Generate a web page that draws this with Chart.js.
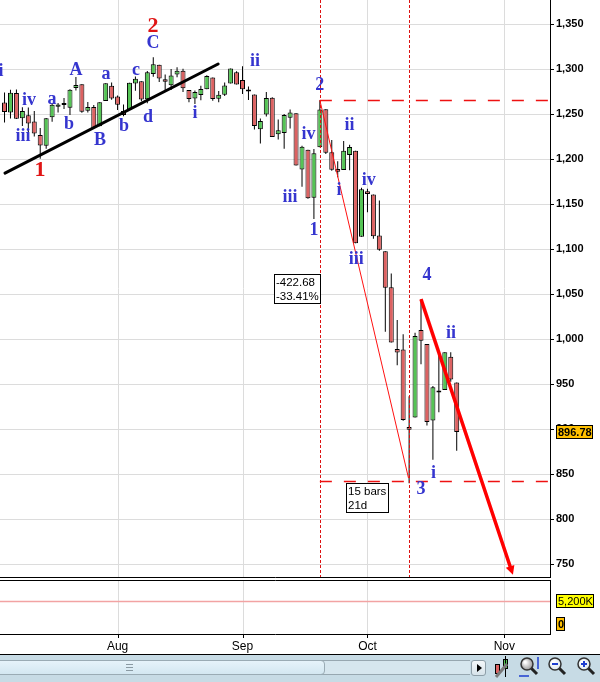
<!DOCTYPE html>
<html>
<head>
<meta charset="utf-8">
<title>S&amp;P 500 – Elliott wave count, Jul–Oct 2008</title>
<script src="https://cdn.jsdelivr.net/npm/chart.js@4.4.1/dist/chart.umd.min.js"></script>
<style>
  html,body{margin:0;padding:0;background:#fff;}
  #wrap{position:relative;width:600px;height:682px;overflow:hidden;background:#fff;}
  #price{position:absolute;left:0;top:0;}
  #volume{position:absolute;left:0;top:578px;}
  #bar{position:absolute;left:0;top:654px;width:600px;height:28px;background:#c7dbe5;border-top:1px solid #000;box-sizing:border-box;}
  #track{position:absolute;left:0;top:5px;width:470px;height:15px;box-sizing:border-box;background:#d6e6ee;border-top:1px solid #97a7b0;border-bottom:1px solid #97a7b0;}
  #thumb{position:absolute;left:-5px;top:5px;width:330px;height:15px;box-sizing:border-box;background:linear-gradient(#e6f3fa,#d3e7f1);border:1px solid #9aabb4;border-radius:4px;}
  #grip{position:absolute;left:130px;top:3px;width:7px;height:7px;background:repeating-linear-gradient(#8a9aa3 0 1px,transparent 1px 3px);}
  #btn{position:absolute;left:471px;top:5px;width:15px;height:16px;box-sizing:border-box;border:1px solid #8d9ea8;border-radius:3px;background:linear-gradient(#f4f8fa,#d6e3ea);}
  #btn:after{content:"";position:absolute;left:5px;top:3px;border-left:5px solid #000;border-top:4px solid transparent;border-bottom:4px solid transparent;}
  #icons{position:absolute;left:488px;top:0;}
</style>
</head>
<body>
<div id="wrap">
  <canvas id="price" width="600" height="578"></canvas>
  <canvas id="volume" width="600" height="77"></canvas>
  <div id="bar">
    <div id="track"></div>
    <div id="thumb"><div id="grip"></div></div>
    <div id="btn"></div>
    <canvas id="icons" width="112" height="27"></canvas>
  </div>
</div>
<script>
// ---------------- DATA ----------------
// trading days (x categories), Jul 7 2008 .. Nov 13 2008
const dates = [
  "2008-07-07","2008-07-08","2008-07-09","2008-07-10","2008-07-11","2008-07-14","2008-07-15","2008-07-16","2008-07-17","2008-07-18",
  "2008-07-21","2008-07-22","2008-07-23","2008-07-24","2008-07-25","2008-07-28","2008-07-29","2008-07-30","2008-07-31",
  "2008-08-01","2008-08-04","2008-08-05","2008-08-06","2008-08-07","2008-08-08","2008-08-11","2008-08-12","2008-08-13","2008-08-14","2008-08-15",
  "2008-08-18","2008-08-19","2008-08-20","2008-08-21","2008-08-22","2008-08-25","2008-08-26","2008-08-27","2008-08-28","2008-08-29",
  "2008-09-02","2008-09-03","2008-09-04","2008-09-05","2008-09-08","2008-09-09","2008-09-10","2008-09-11","2008-09-12",
  "2008-09-15","2008-09-16","2008-09-17","2008-09-18","2008-09-19","2008-09-22","2008-09-23","2008-09-24","2008-09-25","2008-09-26","2008-09-29","2008-09-30",
  "2008-10-01","2008-10-02","2008-10-03","2008-10-06","2008-10-07","2008-10-08","2008-10-09","2008-10-10","2008-10-13","2008-10-14","2008-10-15",
  "2008-10-16","2008-10-17","2008-10-20","2008-10-21","2008-10-22","2008-10-23","2008-10-24","2008-10-27","2008-10-28","2008-10-29","2008-10-30","2008-10-31",
  "2008-11-03","2008-11-04","2008-11-05","2008-11-06","2008-11-07","2008-11-10","2008-11-11","2008-11-12","2008-11-13"
];
const opens = [
  1262.90,1251.84,1273.38,1245.25,1248.66,1241.61,1226.83,1214.65,1246.31,1258.22,1261.82,1257.08,1278.87,1283.22,1253.51,1257.76,1236.38,1264.52,1281.37,
  1269.42,1253.27,1254.87,1283.99,1286.51,1266.29,1294.42,1304.79,1288.64,1282.11,1293.85,1298.14,1276.65,1267.34,1271.07,1277.59,1290.47,1267.03,1271.29,1283.79,1296.49,
  1287.83,1276.61,1271.80,1233.21,1249.50,1267.98,1227.50,1229.04,1245.88,1250.92,1188.31,1210.34,1157.08,1213.11,1255.37,1207.61,1188.79,1187.87,1204.47,1209.07,1113.78,
  1164.17,1160.64,1115.16,1097.56,1057.60,988.91,988.42,902.31,912.75,1009.97,994.60,909.53,942.29,943.51,980.40,951.67
];
const highs = [
  1273.95,1277.00,1277.36,1257.65,1257.27,1253.50,1234.35,1245.52,1262.31,1262.23,1267.74,1277.42,1291.17,1283.22,1263.23,1260.09,1263.20,1284.33,1284.93,
  1270.52,1260.49,1284.88,1291.67,1286.51,1297.85,1313.15,1304.79,1294.03,1300.11,1302.05,1300.22,1276.65,1276.01,1281.40,1293.09,1290.47,1275.65,1285.05,1300.68,1297.59,
  1303.04,1280.60,1271.80,1244.94,1274.42,1268.66,1243.90,1249.98,1255.09,1250.92,1214.84,1210.34,1211.14,1265.33,1255.37,1221.15,1197.41,1220.03,1215.77,1209.07,1168.03,
  1167.03,1160.64,1153.82,1097.56,1072.91,1021.06,1005.25,936.36,1006.93,1044.31,994.60,947.71,984.64,985.40,985.44,951.67
];
const lows = [
  1240.68,1245.00,1244.57,1236.76,1225.35,1225.01,1200.44,1211.39,1241.49,1251.81,1255.70,1248.83,1276.06,1251.48,1251.75,1234.37,1236.38,1264.52,1265.97,
  1254.54,1247.45,1254.67,1276.00,1264.29,1262.11,1291.41,1285.64,1274.86,1276.84,1290.74,1274.51,1263.11,1261.16,1265.22,1277.59,1264.87,1263.21,1270.03,1283.79,1282.74,
  1272.20,1265.59,1232.83,1217.23,1247.12,1224.51,1221.60,1211.54,1233.81,1192.70,1169.28,1155.88,1133.50,1213.11,1205.61,1187.06,1179.79,1187.87,1187.54,1106.39,1113.78,
  1140.77,1111.43,1098.14,1007.97,996.23,970.97,909.19,839.80,912.75,972.07,903.99,865.83,918.74,943.51,952.47,875.81
];
const closes = [
  1252.31,1273.70,1244.69,1253.39,1239.49,1228.30,1214.91,1245.36,1260.32,1260.68,1260.00,1277.00,1282.19,1252.54,1257.76,1234.37,1263.20,1284.26,1267.38,
  1260.31,1249.01,1284.88,1289.19,1266.07,1296.32,1305.32,1289.59,1285.83,1292.93,1298.20,1278.60,1266.69,1274.54,1277.72,1292.20,1266.84,1271.51,1281.66,1300.68,1282.83,
  1277.58,1274.98,1236.83,1242.31,1267.79,1224.51,1232.04,1249.05,1251.70,1192.70,1213.60,1156.39,1206.51,1255.08,1207.09,1188.22,1185.87,1209.18,1213.27,1106.39,1166.36,
  1161.06,1114.28,1099.23,1056.89,996.23,984.94,909.92,899.22,1003.35,998.01,907.84,946.43,940.55,985.40,955.05,896.78
];
const priceTicks = [750,800,850,900,950,1000,1050,1100,1150,1200,1250,1300,1350];
const monthNames = {"07":"Jul","08":"Aug","09":"Sep","10":"Oct","11":"Nov"};
const volumeRef = 5200;           // thousands, reference level in the volume pane
const volumes = [];               // no volume bars shown

// Elliott-wave annotations (x = trading-day index, y = price)
const waveLabels = [
  ["i",-0.6,1297,"minor"],["iii",3.1,1225.5,"minor"],["iv",4.1,1265.5,"minor"],["1",5.97,1187,"major"],
  ["a",8.0,1266.5,"minor"],["b",10.85,1238,"minor"],["A",12.0,1299,"minor"],["B",16.05,1221,"minor"],
  ["a",17.05,1294.5,"minor"],["b",20.1,1236.5,"minor"],["c",22.1,1299,"minor"],["d",24.1,1246.5,"minor"],
  ["C",24.95,1328,"minor"],["2",24.95,1347,"major"],["i",32.0,1251,"minor"],["ii",42.1,1308,"minor"],
  ["iii",48.0,1157.5,"minor"],["iv",51.1,1227,"minor"],["1",52.0,1120.5,"minor"],["2",53.0,1282,"minor"],
  ["i",56.2,1165.5,"minor"],["ii",58.0,1237,"minor"],["iii",59.1,1088,"minor"],["iv",61.2,1176.5,"minor"],
  ["3",70.0,833,"minor"],["4",71.0,1071,"minor"],["i",72.1,851,"minor"],["ii",75.05,1006.5,"minor"]
];
const trendLine  = [[0.08,1184.4],[35.9,1305.6]];
const waveLine   = [[53,1265.33],[67.9,845.5]];
const projArrow  = [[70,1044.31],[85.45,738]];
const levelLines = [[53,1265.33],[53,842.2]];
const markerDays = [53,68];
const measureBoxes = [
  {lines:["-422.68","-33.41%"], x:45.3, y:1072.2},
  {lines:["15 bars","21d"],     x:57.4, y:840}
];

// ---------------- CHART ----------------
Chart.defaults.font.family = "'Liberation Sans', Arial, sans-serif";
const X_MIN = -0.76, X_MAX = 91.68;
const Y_MIN = 735.6, Y_MAX = 1376.7;
const V_MIN = -2261, V_MAX = 9948;
const GRID = "#dcdcdc";

const monthTicks = dates.map((d,i)=>i).filter(i=>i>0 && dates[i].slice(5,7)!==dates[i-1].slice(5,7));
const UP = "#55c455", DOWN = "#dc6262";

const bodies = opens.map((o,i)=>({x:i, y:[o, closes[i]]}));
const wicks  = opens.map((o,i)=>({x:i, y:[lows[i], highs[i]]}));
const bodyColors = opens.map((o,i)=> closes[i] >= o ? UP : DOWN);

function tag(ctx, x, y, text, fill, bold){
  ctx.font = (bold ? "bold " : "") + "11px 'Liberation Sans', Arial, sans-serif";
  const w = Math.round(ctx.measureText(text).width) + 3;
  const top = Math.round(y - 7);
  ctx.fillStyle = fill; ctx.fillRect(x, top, w, 14);
  ctx.strokeStyle = "#000"; ctx.lineWidth = 1; ctx.setLineDash([]);
  ctx.strokeRect(x + 0.5, top + 0.5, w - 1, 13);
  ctx.fillStyle = "#000"; ctx.textAlign = "left"; ctx.textBaseline = "middle";
  ctx.fillText(text, x + 2, top + 7.5);
}

// month grid lines (and optional tick marks) drawn from the x scale
function monthGrid(chart, tickLen){
  const {ctx, chartArea:a, scales:{x}} = chart;
  ctx.save();
  ctx.lineWidth = 1;
  monthTicks.forEach(v => {
    const p = Math.round(x.getPixelForValue(v)) + 0.5;
    ctx.strokeStyle = GRID; ctx.beginPath(); ctx.moveTo(p, a.top); ctx.lineTo(p, a.bottom); ctx.stroke();
    if (tickLen) { ctx.strokeStyle = "#000"; ctx.beginPath(); ctx.moveTo(p, a.bottom); ctx.lineTo(p, a.bottom + tickLen); ctx.stroke(); }
  });
  ctx.restore();
}

const overlay = {
  id: "overlay",
  beforeDatasetsDraw(chart){ monthGrid(chart, 0); },
  afterDatasetsDraw(chart){
    const {ctx, chartArea:a, scales:{x, y}} = chart;
    const X = v => x.getPixelForValue(v), Y = v => y.getPixelForValue(v);
    ctx.save();
    ctx.beginPath(); ctx.rect(a.left, a.top, a.right - a.left, a.bottom - a.top); ctx.clip();
    // vertical dotted markers
    ctx.strokeStyle = "#dd1111"; ctx.lineWidth = 1; ctx.setLineDash([3,2]);
    markerDays.forEach(d => { const p = Math.round(X(d)) + 0.5; ctx.beginPath(); ctx.moveTo(p, a.top); ctx.lineTo(p, a.bottom); ctx.stroke(); });
    // horizontal dashed levels
    ctx.strokeStyle = "#ee1111"; ctx.lineWidth = 1.5; ctx.setLineDash([12,12]);
    levelLines.forEach(([d,p]) => { const yy = Math.round(Y(p)) + 0.5; ctx.beginPath(); ctx.moveTo(X(d), yy); ctx.lineTo(a.right, yy); ctx.stroke(); });
    ctx.setLineDash([]);
    // thin wave line
    ctx.strokeStyle = "#ff1111"; ctx.lineWidth = 1;
    ctx.beginPath(); ctx.moveTo(X(waveLine[0][0]), Y(waveLine[0][1])); ctx.lineTo(X(waveLine[1][0]), Y(waveLine[1][1])); ctx.stroke();
    // trend line
    ctx.strokeStyle = "#000"; ctx.lineWidth = 3; ctx.lineCap = "round";
    ctx.beginPath(); ctx.moveTo(X(trendLine[0][0]), Y(trendLine[0][1])); ctx.lineTo(X(trendLine[1][0]), Y(trendLine[1][1])); ctx.stroke();
    // projection arrow
    const x0 = X(projArrow[0][0]), y0 = Y(projArrow[0][1]), x1 = X(projArrow[1][0]), y1 = Y(projArrow[1][1]);
    const ang = Math.atan2(y1 - y0, x1 - x0), hl = 9, hw = 4.5;
    ctx.strokeStyle = "#ff0000"; ctx.fillStyle = "#ff0000"; ctx.lineWidth = 3.5; ctx.lineCap = "butt";
    ctx.beginPath(); ctx.moveTo(x0, y0); ctx.lineTo(x1 - Math.cos(ang)*hl*0.8, y1 - Math.sin(ang)*hl*0.8); ctx.stroke();
    ctx.beginPath(); ctx.moveTo(x1, y1);
    ctx.lineTo(x1 - Math.cos(ang)*hl - Math.sin(ang)*hw, y1 - Math.sin(ang)*hl + Math.cos(ang)*hw);
    ctx.lineTo(x1 - Math.cos(ang)*hl + Math.sin(ang)*hw, y1 - Math.sin(ang)*hl - Math.cos(ang)*hw);
    ctx.closePath(); ctx.fill();
    // wave labels
    ctx.textAlign = "center"; ctx.textBaseline = "middle";
    waveLabels.forEach(([t, d, p, kind]) => {
      if (kind === "major") { ctx.font = "bold 22px 'Liberation Serif', 'Times New Roman', serif"; ctx.fillStyle = "#e01515"; }
      else { ctx.font = "bold 18px 'Liberation Serif', 'Times New Roman', serif"; ctx.fillStyle = "#3535cf"; }
      ctx.fillText(t, X(d), Y(p));
    });
    // measurement boxes
    ctx.font = "11.5px 'Liberation Sans', Arial, sans-serif";
    measureBoxes.forEach(b => {
      const w = Math.ceil(Math.max(...b.lines.map(l => ctx.measureText(l).width))) + 4;
      const h = b.lines.length * 14 + 2;
      const bx = Math.round(X(b.x)), by = Math.round(Y(b.y));
      ctx.fillStyle = "#fff"; ctx.fillRect(bx, by, w, h);
      ctx.strokeStyle = "#000"; ctx.lineWidth = 1; ctx.strokeRect(bx + 0.5, by + 0.5, w - 1, h - 1);
      ctx.fillStyle = "#000"; ctx.textAlign = "left"; ctx.textBaseline = "middle";
      b.lines.forEach((l, k) => ctx.fillText(l, bx + 2, by + 8.5 + k * 14));
    });
    ctx.restore();
  },
  afterDraw(chart){
    const {ctx, chartArea:a, scales:{y}} = chart;
    ctx.save();
    const last = closes[closes.length - 1];
    tag(ctx, a.right + 6, y.getPixelForValue(last), last.toFixed(2), "#ffc000", true);
    ctx.restore();
  }
};

new Chart(document.getElementById("price"), {
  type: "bar",
  data: {
    datasets: [
      {label:"Open/Close", data: bodies, backgroundColor: bodyColors, borderColor:"#000", borderWidth:1,
       borderSkipped:false, barThickness:5, minBarLength:2, grouped:false, order:0, inflateAmount:0},
      {label:"High/Low", data: wicks, backgroundColor:"#000", borderWidth:0,
       barThickness:1, grouped:false, order:1, inflateAmount:0}
    ]
  },
  options: {
    responsive:false, animation:false, events:[],
    layout:{padding:0},
    plugins:{legend:{display:false}, tooltip:{enabled:false}},
    scales:{
      x:{type:"linear", min:X_MIN, max:X_MAX, offset:false,
         afterBuildTicks:s=>{ s.ticks = monthTicks.map(v=>({value:v})); },
         afterFit:s=>{ s.height = 1; s.paddingLeft = 0; s.paddingRight = 0; },
         grid:{display:false},
         border:{display:true, color:"#000", width:1},
         ticks:{display:false}},
      y:{type:"linear", position:"right", min:Y_MIN, max:Y_MAX,
         afterBuildTicks:s=>{ s.ticks = priceTicks.map(v=>({value:v})); },
         afterFit:s=>{ s.width = 50; s.paddingTop = 0; s.paddingBottom = 0; },
         grid:{color:GRID, lineWidth:1, tickColor:"#000", tickLength:4},
         border:{display:true, color:"#000", width:1},
         ticks:{color:"#000", padding:2, font:{size:11, weight:"bold"},
                callback:v=>v.toLocaleString("en-US")}}
    }
  },
  plugins:[overlay]
});

const volOverlay = {
  id:"volOverlay",
  beforeDatasetsDraw(chart){
    monthGrid(chart, 4);
    const {ctx, chartArea:a, scales:{y}} = chart;
    ctx.save();
    const yr = Math.round(y.getPixelForValue(volumeRef)) + 0.5;
    ctx.strokeStyle = "#f2a3a3"; ctx.lineWidth = 1.5;
    ctx.beginPath(); ctx.moveTo(a.left, yr); ctx.lineTo(a.right, yr); ctx.stroke();
    ctx.restore();
  },
  afterDraw(chart){
    const {ctx, chartArea:a, scales:{y}} = chart;
    ctx.save();
    ctx.strokeStyle = "#000"; ctx.lineWidth = 1;
    ctx.beginPath(); ctx.moveTo(0, Math.round(a.top) + 0.5); ctx.lineTo(a.right + 1, Math.round(a.top) + 0.5); ctx.stroke();
    tag(ctx, a.right + 6, y.getPixelForValue(volumeRef), (volumeRef).toLocaleString("en-US") + "K", "#ffff00", false);
    tag(ctx, a.right + 6, y.getPixelForValue(0), "0", "#ffc000", true);
    ctx.restore();
  }
};

new Chart(document.getElementById("volume"), {
  type:"bar",
  data:{datasets:[{label:"Volume", data: volumes, backgroundColor:"#4a8", grouped:false}]},
  options:{
    responsive:false, animation:false, events:[],
    layout:{padding:{top:2, left:0, right:0, bottom:0}},
    plugins:{legend:{display:false}, tooltip:{enabled:false}},
    scales:{
      x:{type:"linear", min:X_MIN, max:X_MAX, offset:false,
         afterBuildTicks:s=>{ s.ticks = monthTicks.map(v=>({value:v})); },
         afterFit:s=>{ s.height = 21; s.paddingLeft = 0; s.paddingRight = 0; },
         grid:{display:true, drawOnChartArea:false, drawTicks:true, tickLength:4, color:"rgba(0,0,0,0)", tickColor:"rgba(0,0,0,0)"},
         border:{display:true, color:"#000", width:1},
         ticks:{color:"#000", padding:1, maxRotation:0, autoSkip:false, font:{size:12},
                callback:v=>monthNames[dates[v].slice(5,7)]}},
      y:{type:"linear", position:"right", min:V_MIN, max:V_MAX,
         afterBuildTicks:s=>{ s.ticks = [{value:0},{value:volumeRef}]; },
         afterFit:s=>{ s.width = 50; s.paddingTop = 0; s.paddingBottom = 0; },
         grid:{display:false},
         border:{display:true, color:"#000", width:1},
         ticks:{display:false}}
    }
  },
  plugins:[volOverlay]
});

// ---------------- toolbar icons (UI chrome) ----------------
(function(){
  const c = document.getElementById("icons").getContext("2d");
  c.fillStyle = "#dc6262"; c.fillRect(7,9,5,10); c.strokeStyle="#000"; c.lineWidth=1; c.strokeRect(7.5,9.5,4,9);
  c.fillStyle = "#55c455"; c.fillRect(15,4,5,10); c.strokeRect(15.5,4.5,4,9);
  c.beginPath(); c.moveTo(17.5,1); c.lineTo(17.5,22); c.stroke();
  c.strokeStyle = "#7a7a7a"; c.lineWidth = 3; c.beginPath(); c.moveTo(8,22); c.lineTo(19,9); c.stroke();
  function glass(cx, cy, sign){
    c.lineWidth = 3; c.strokeStyle = "#222"; c.beginPath(); c.moveTo(cx+4, cy+4); c.lineTo(cx+10, cy+10); c.stroke();
    const g = c.createRadialGradient(cx-2, cy-2, 1, cx, cy, 6);
    g.addColorStop(0, "#fff"); g.addColorStop(1, sign ? "#dfe8ee" : "#9a9a9a");
    c.fillStyle = g; c.beginPath(); c.arc(cx, cy, 6, 0, Math.PI*2); c.fill();
    c.lineWidth = 1.5; c.strokeStyle = "#333"; c.stroke();
    if (sign) {
      c.strokeStyle = "#1f3fd0"; c.lineWidth = 2; c.beginPath(); c.moveTo(cx-3, cy); c.lineTo(cx+3, cy);
      if (sign === "+") { c.moveTo(cx, cy-3); c.lineTo(cx, cy+3); }
      c.stroke();
    }
  }
  glass(39, 9, null);
  c.strokeStyle = "#1f3fd0"; c.lineWidth = 1.5;
  c.beginPath(); c.moveTo(50,2); c.lineTo(50,14); c.moveTo(31,21); c.lineTo(41,21); c.stroke();
  glass(67, 9, "-");
  glass(96, 9, "+");
})();
</script>
</body>
</html>
